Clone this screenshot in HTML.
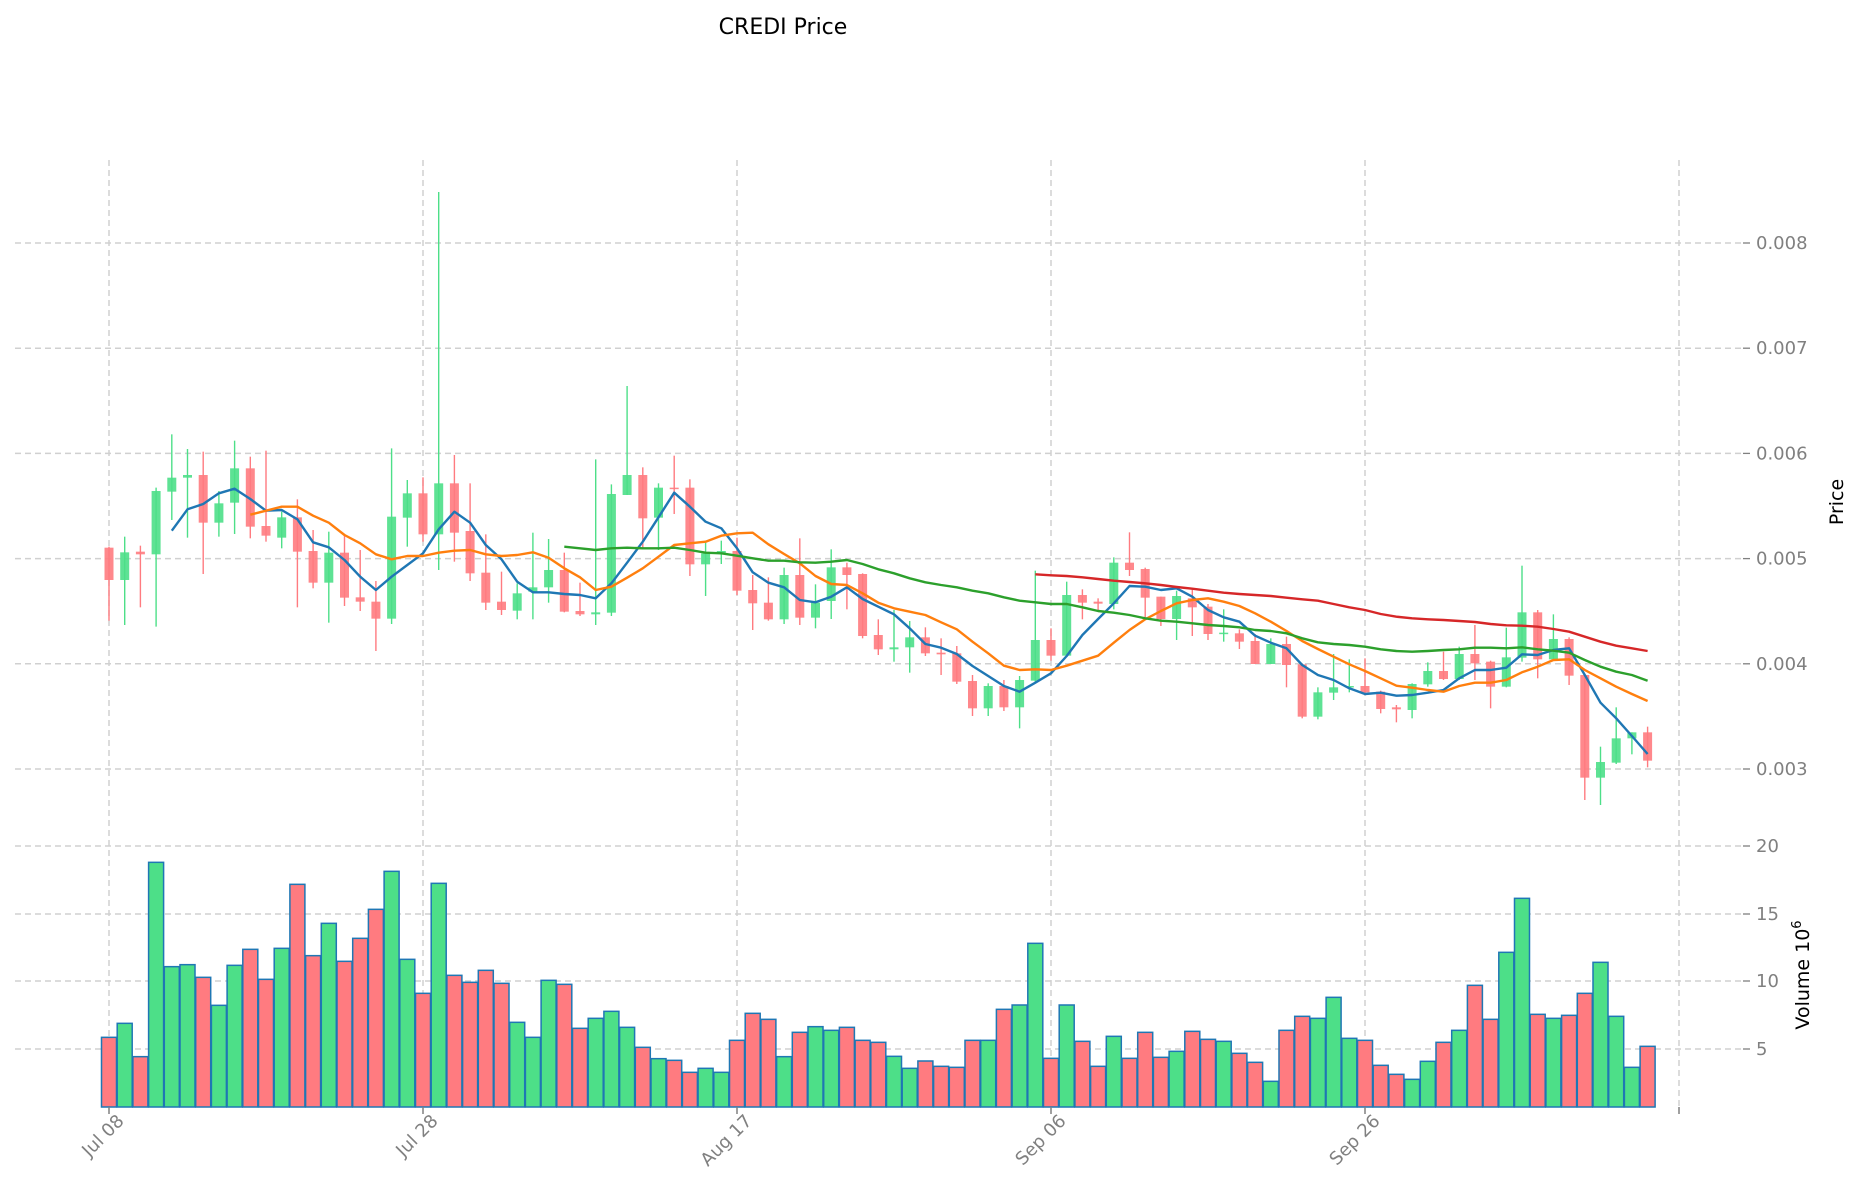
<!DOCTYPE html>
<html><head><meta charset="utf-8">
<style>
html,body{margin:0;padding:0;background:#fff;}
svg{display:block;font-family:"DejaVu Sans","Liberation Sans",sans-serif;}
</style></head>
<body>
<svg id="c" width="1860" height="1202" viewBox="0 0 1860 1202" xmlns="http://www.w3.org/2000/svg">
<rect width="1860" height="1202" fill="#fff"/>
<text x="783" y="34" font-size="22" text-anchor="middle" fill="#000">CREDI Price</text>
<g id="grid"></g>
<g id="vol"></g>
<g id="cand"></g>
<g id="ma"></g>
<g id="axes" fill="#808080" font-size="18"></g>
<text transform="translate(1843,502) rotate(-90)" font-size="19" text-anchor="middle" fill="#000">Price</text>
<text transform="translate(1809,975) rotate(-90)" font-size="19" text-anchor="middle" fill="#000">Volume  10<tspan dy="-8" font-size="13">6</tspan></text>
</svg>
<script>
var NS="http://www.w3.org/2000/svg";
function el(p,t,a){var e=document.createElementNS(NS,t);for(var k in a)e.setAttribute(k,a[k]);p.appendChild(e);return e;}
var X=function(i){return 109+15.7*i;};
var G="#4ddf88",R="#ff7b80";
var grid=document.getElementById('grid'),axes=document.getElementById('axes');
var pl=["0.003","0.004","0.005","0.006","0.007","0.008"];
for(var k=0;k<6;k++){var y=769-105.2*k;
 el(grid,'line',{x1:15,x2:1743,y1:y,y2:y,stroke:'#d0d0d0','stroke-width':1.5,'stroke-dasharray':'6,4'});
 el(axes,'line',{x1:1743,x2:1750,y1:y,y2:y,stroke:'#808080','stroke-width':1.3});
 var t=el(axes,'text',{x:1756,y:y+6});t.textContent=pl[k];}
var vl=[[20,846],[15,914],[10,981],[5,1049]];
vl.forEach(function(v){
 el(grid,'line',{x1:15,x2:1743,y1:v[1],y2:v[1],stroke:'#d0d0d0','stroke-width':1.5,'stroke-dasharray':'6,4'});
 el(axes,'line',{x1:1743,x2:1750,y1:v[1],y2:v[1],stroke:'#808080','stroke-width':1.3});
 var t=el(axes,'text',{x:1756,y:v[1]+6});t.textContent=v[0];});
var dl=["Jul 08","Jul 28","Aug 17","Sep 06","Sep 26",""];
for(var k=0;k<6;k++){var x=109+314*k;
 el(grid,'line',{x1:x,x2:x,y1:160,y2:1107,stroke:'#d0d0d0','stroke-width':1.5,'stroke-dasharray':'6,4'});
 el(axes,'line',{x1:x,x2:x,y1:1107,y2:1114,stroke:'#808080','stroke-width':1.5});
 if(dl[k]){var t=el(axes,'text',{transform:'translate('+(x+16)+',1122) rotate(-45)','text-anchor':'end'});t.textContent=dl[k];}}
var A=[[503,600,500,722,'r'],[517,600,470,735,'g'],[515,523,497,682,'r'],[333,523,323,740,'g'],[293,335,163,420,'g'],[285,293,207,473,'g'],[285,428,215,582,'r'],[370,428,333,470,'g'],[265,368,182,462,'g'],[265,440,230,475,'r'],[438,467,212,485,'r'],[412,473,395,505,'g'],[412,515,358,682,'r'],[513,608,450,625,'r'],[518,608,455,728,'g'],[518,653,465,678,'r'],[652,665,510,693,'r'],[665,716,603,813,'r'],[410,716,205,732,'g'],[340,413,300,500,'g'],[340,463,292,485,'r'],[310,463,-564,570,'g'],[310,458,225,545,'r'],[453,580,310,603,'r'],[578,668,463,690,'r'],[665,690,575,705,'r'],[640,692,610,718,'g'],[622,635,458,718,'g'],[570,622,477,668,'g'],
[570,695,518,697,'r'],[693,703,608,708,'r'],[697,703,238,735,'g'],[342,698,313,708,'g'],[285,345,18,345,'g'],[285,415,262,505,'r'],[323,413,310,510,'g'],[323,327,227,402,'r'],[323,553,298,588,'r'],[520,553,488,648,'g'],[513,520,482,552,'g'],[513,632,473,645,'r'],[630,670,585,750,'r'],[668,718,592,722,'r'],[585,718,563,732,'g'],[585,713,475,735,'r'],[668,713,613,745,'g'],[562,663,508,717,'g'],[562,585,548,688,'r'],[582,768,580,775,'r'],[765,808,718,825,'r'],[802,808,690,845,'g'],[772,802,723,878,'g'],[772,820,742,828,'r'],[818,823,775,885,'r'],[820,905,798,912,'r'],[903,985,885,1008,'r'],[918,985,910,1008,'g'],[918,982,900,993,'r'],[900,982,888,1045,'g'],[780,902,572,905,'g']];
var B=[[420,467,385,482,'r'],[285,467,245,467,'g'],[285,308,268,358,'r'],[305,311,295,335,'r'],[188,312,172,328,'g'],[188,210,97,228,'r'],[207,293,203,352,'r'],[290,357,290,378,'r'],[288,357,272,420,'g'],[295,322,268,408,'r'],[320,402,312,420,'r'],[398,401,328,425,'g'],[400,425,388,447,'r'],[423,492,402,492,'r'],[432,492,415,492,'g'],[432,495,410,562,'r'],[493,650,490,655,'r'],[577,650,562,658,'g'],[562,578,462,600,'g'],[558,562,478,577,'g'],[558,577,475,585,'r'],[575,627,572,640,'r'],[622,628,615,667,'r'],[552,630,550,655,'g'],[513,553,487,560,'g'],[513,537,455,540,'r'],[462,537,440,540,'g'],[462,490,375,540,'r'],[485,560,482,625,'r'],[472,560,383,562,'g']];
var C=[[157,293,17,305,'g'],[157,298,150,355,'r'],[237,298,163,300,'g'],[237,347,232,375,'r'],[345,653,345,720,'r'],[606,653,560,735,'g'],[535,608,442,612,'g'],[517,535,517,583,'g'],[517,602,500,622,'r']];
var cd=[];
A.forEach(function(c){cd.push([380+c[0]/3,380+c[1]/3,380+c[2]/3,380+c[3]/3,c[4]]);});
B.forEach(function(c){cd.push([500+c[0]/3,500+c[1]/3,500+c[2]/3,500+c[3]/3,c[4]]);});
C.forEach(function(c){cd.push([560+c[0]/3,560+c[1]/3,560+c[2]/3,560+c[3]/3,c[4]]);});
var cg=document.getElementById('cand');
cd.forEach(function(c,i){var x=X(i),col=c[4]=='g'?G:R;
 el(cg,'line',{x1:x,x2:x,y1:c[2],y2:c[3],stroke:col,'stroke-width':1.4});
 el(cg,'rect',{x:x-4.5,y:c[0],width:9,height:Math.max(c[1]-c[0],1.5),fill:col,'fill-opacity':0.9});});
var V=[592,550,650,67,380,374,412,496,376,328,418,325,133,347,250,364,295,208,94,358,460,130,406,427,391,430,547,592,421,433,565,535,514,562,622,656,661,697,685,697,601,520,538,650,577,560,571,562,601,
607,649,685,663,679,682,601,601,508,495,310,655,495,604,679,589,655,577,652,634,574,598,604,640,667,724,571,529,535,472,595,601,676,703,718,664,607,571,436,538,337,175,523,535,526,460,367,529,682,619];
var vg=document.getElementById('vol');
V.forEach(function(z,i){var y=840+z/3,col=cd[i][4]=='g'?G:R;
 el(vg,'rect',{x:X(i)-7.5,y:y,width:15,height:1107-y,fill:col,stroke:'#1f77b4','stroke-width':1.5});});
var mg=document.getElementById('ma');
function line(start,segs,col){var pts=[],i=start;
 segs.forEach(function(s){s[1].forEach(function(z){pts.push(X(i).toFixed(1)+','+(s[0]+z/3).toFixed(1));i++;});});
 el(mg,'polyline',{points:pts.join(' '),fill:'none',stroke:col,'stroke-width':2.4,'stroke-linejoin':'round'});}
line(4,[[380,[452,388,372,340,326,357,392,390,418,487,502,540,590,630,590,555,520,448,395,428,495,538,605,637,637,642,645,655,610,548,485,412,338,380,425,445,505,577,608,622,660,667,650,622,657,680,703,745,792,803,822,858,888,918,935,908]],[500,[520,468,405,357,310,258,260,270,265,290,330,352,365,407,428,445,495,525,540,565,582,578,587,585,578,570,535,510,510,503]],[560,[283,285,270,265,345,428,475,528,582]]],'#1f77b4');
line(9,[[380,[404,392,380,380,407,428,465,490,523,538,528,528,518,512,510,523,528,525,517,533,565,592,630,620,593,565,530,495,490,485,467,460,458,493,522,550,588,612,615,640,668,685,695,705,727,748,785,820,857,870,868]],[500,[510,497,482,467,428,390,358,333,310,300,295,305,318,340,365,393,423,447,470,493,513,535,557,563,570,575,558,548,548,540]],[560,[337,320,300,298,330,355,380,402,423]]],'#ff7f0e');
line(29,[[380,[500,505,510,505,503,505,505,503,510,518,520,527,535,542,542,547,548,545,540,552,568,580,595,607,615,622,632,640,652,662,667]],[500,[312,312,322,333,338,345,355,362,365,370,375,378,382,390,393,400,415,427,432,435,440,448,453,455,453,450,448,443,443,445]],[560,[262,268,272,278,300,320,335,345,362]]],'#2ca02c');
line(59,[[500,[223,226,228,232,237,242,246,250,255,261,266,272,278,282,285,288,293,298,302,312,322,330,342,350,355,358,360,363,366,372,376]],[560,[197,200,207,215,230,245,257,265,273]]],'#d62728');
</script>
</body></html>
